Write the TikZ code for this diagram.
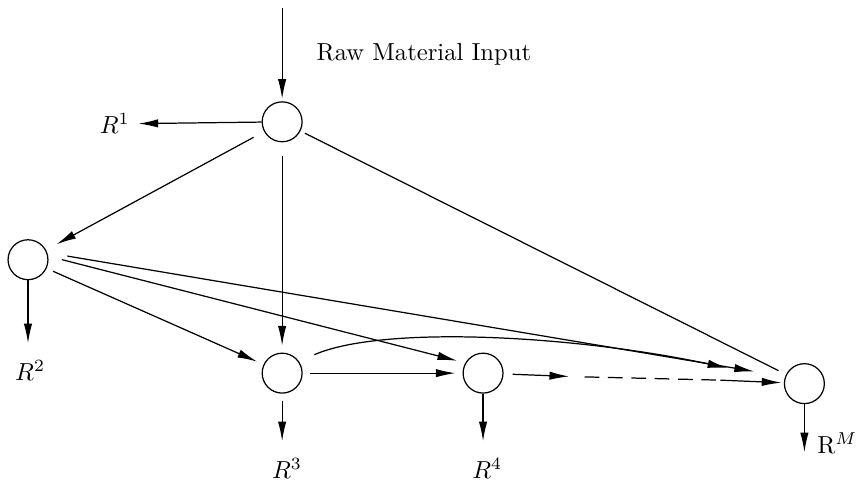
\documentclass[tikz,border=0pt]{standalone}
\usetikzlibrary{arrows.meta}
\tikzset{
    nodo/.style={circle,draw,line width=0.5pt,minimum size=0.57cm,inner sep=0pt},
    freccia/.style={-{Latex[length=8pt,width=3.4pt]},line width=0.5pt},
    linea/.style={line width=0.5pt},
}
\begin{document}
\begin{tikzpicture}
    \useasboundingbox(0,0)rectangle(12.27,6.87);
    %nodi
    \node[nodo](n1)at(4.03,5.13){};
    \node[nodo](n2)at(0.40,3.16){};
    \node[nodo](n3)at(4.03,1.54){};
    \node[nodo](n4)at(6.90,1.54){};
    \node[nodo](nM)at(11.49,1.39){};
    %ingresso materia prima
    \coordinate(in)at(4.03,6.76);
    \draw[freccia,shorten >=1pt](in)--(n1);
    \node[anchor=west](raw)at(4.40,6.10){Raw Material Input};
    %uscite R
    \node(r1)at(1.64,5.10){$R^1$};
    \node(r2)at(0.43,1.58){$R^2$};
    \node(r3)at(4.10,0.18){$R^3$};
    \node(r4)at(6.96,0.18){$R^4$};
    \node(rM)at(11.96,0.54){$\mathrm{R}^{M}$};
    \coordinate(tM)at(11.53,0.41);
    \draw[freccia](n1)--(r1);
    \draw[freccia,shorten >=0.12cm](n2)--(n2|-r2.north);
    \draw[freccia,shorten <=0.1cm,shorten >=0.12cm](n3)--(n3|-r3.north);
    \draw[freccia,shorten >=0.12cm](n4)--(n4|-r4.north);
    \draw[freccia](nM)--(nM|-tM);
    %collegamenti dal primo nodo
    \draw[freccia,shorten <=0.17cm,shorten >=0.17cm](n1)--(n2);
    \draw[freccia,shorten <=0.2cm,shorten >=0.1cm](n1)--(n3);
    \draw[linea,shorten <=0.07cm,shorten >=0.12cm](n1)--(nM);
    %collegamenti dal secondo nodo
    \draw[freccia,shorten <=0.1cm,shorten >=0.1cm](n2.-25)--(n3.155);
    \draw[freccia,shorten <=0.2cm,shorten >=0.12cm](n2.10)--(n4.150);
    \draw[freccia,shorten <=0.29cm,shorten >=0.45cm](n2.20)--(nM.160);
    %collegamenti dal terzo nodo
    \draw[freccia,shorten <=0.1cm,shorten >=0.1cm](n3)--(n4);
    \draw[freccia,shorten <=0.24cm,shorten >=0.83cm](n3.35)..controls +(1.2,0.52) and +(-3,0.64)..(nM.170);
    %catena fino all'ultimo nodo
    \coordinate(d1)at(8.20,1.49);
    \coordinate(d2)at(10.29,1.44);
    \draw[freccia,shorten <=0.13cm,shorten >=2pt](n4)--(d1);
    \draw[linea,dash pattern=on 6pt off 3.5pt,shorten <=0.15cm](d1)--(d2);
    \draw[freccia,shorten >=1pt](d2)--(nM);
\end{tikzpicture}
\end{document}
